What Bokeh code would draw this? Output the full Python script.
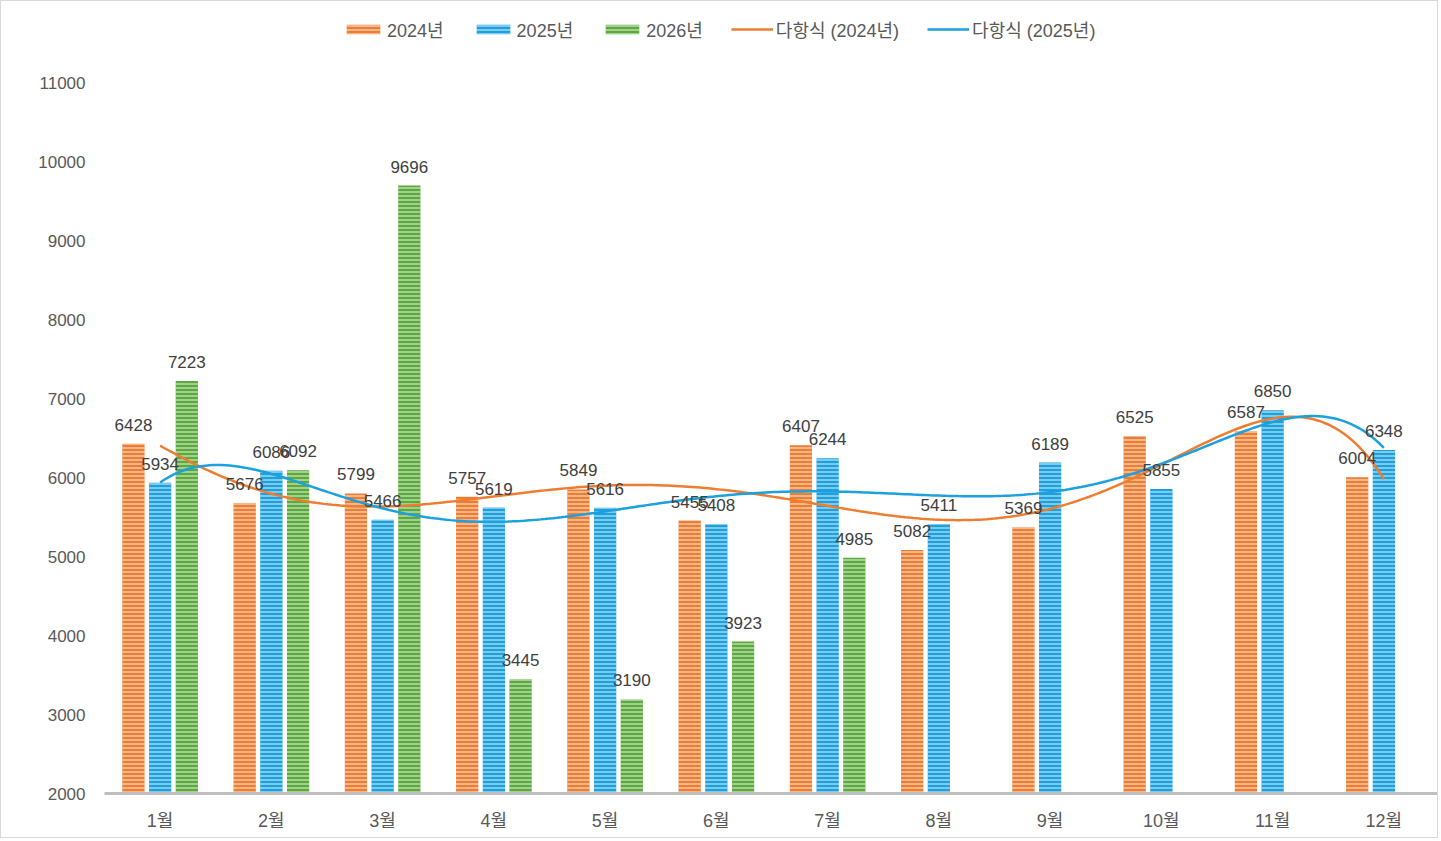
import numpy as np
from bokeh.plotting import figure
from bokeh.models import ColumnDataSource, Legend, LegendItem, FixedTicker, Range1d, LabelSet
from bokeh.core.properties import value
from bokeh.embed import file_html
from bokeh.resources import INLINE

months = ["1월", "2월", "3월", "4월", "5월", "6월", "7월", "8월", "9월", "10월", "11월", "12월"]
v2024 = [6428, 5676, 5799, 5757, 5849, 5455, 6407, 5082, 5369, 6525, 6587, 6004]
v2025 = [5934, 6086, 5466, 5619, 5616, 5408, 6244, 5411, 6189, 5855, 6850, 6348]
v2026 = [7223, 6092, 9696, 3445, 3190, 3923, 4985]
y_ticks = list(range(2000, 11001, 1000))

C24 = "#ED7D31"
C25 = "#1BA1DD"
C26 = "#5DAA3C"
FONT = "Liberation Sans, Noto Sans CJK KR"

W, H = 1438, 838
BL, BR, BT, BB = 103, 0, 10, 46
# frame extends above the 11000 tick so the legend sits inside the frame
y_bottom_px = H - BB          # pixel row of 2000
y_top_tick_px = 81            # pixel row of 11000
y_end = 2000 + 9000 * (y_bottom_px - BT) / (y_bottom_px - y_top_tick_px)

p = figure(width=W, height=H, output_backend="svg", toolbar_location=None,
           x_range=Range1d(0.5, 12.5), y_range=Range1d(2000, y_end),
           min_border_left=BL, min_border_right=BR, min_border_top=BT, min_border_bottom=BB)
p.grid.visible = False
p.outline_line_color = None
p.background_fill_color = "white"
p.border_fill_color = "white"
p.styles = {"border": "1px solid #d9d9d9", "box-sizing": "border-box"}

xs = np.arange(1, 13)
off = 0.24
bw = 0.2

def bars(vals, dx, color):
    n = len(vals)
    src = ColumnDataSource(dict(x=(xs[:n] + dx).tolist(), top=vals, lab=[str(v) for v in vals]))
    r = p.vbar(x="x", top="top", bottom=2000, width=bw, source=src, fill_color=color, line_color=None,
               hatch_pattern="horizontal_line", hatch_color="white", hatch_alpha=0.55,
               hatch_scale=4, hatch_weight=1.6)
    return r, src

r24, s24 = bars(v2024, -off, C24)
r25, s25 = bars(v2025, 0.0, C25)
r26, s26 = bars(v2026, off, C26)

xf = np.linspace(1, 12, 300)
t24 = np.polyval(np.polyfit(xs, v2024, 6), xf)
t25 = np.polyval(np.polyfit(xs, v2025, 6), xf)
l24 = p.line(xf, t24, line_color=C24, line_width=2.5)
l25 = p.line(xf, t25, line_color=C25, line_width=2.5)

for src in (s24, s25, s26):
    p.add_layout(LabelSet(x="x", y="top", text="lab", source=src, text_align="center",
                          text_baseline="bottom", y_offset=13, text_font=value(FONT),
                          text_font_size=value("17px"), text_color=value("#404040")))

p.yaxis.ticker = FixedTicker(ticks=y_ticks)
p.yaxis.axis_line_color = None
p.yaxis.major_tick_line_color = None
p.yaxis.minor_tick_line_color = None
p.yaxis.major_label_text_font = FONT
p.yaxis.major_label_text_font_size = "17px"
p.yaxis.major_label_text_color = "#595959"
p.yaxis.major_label_standoff = 13

p.xaxis.ticker = FixedTicker(ticks=xs.tolist())
p.xaxis.major_label_overrides = {int(i): m for i, m in zip(xs, months)}
p.xaxis.axis_line_color = "#bfbfbf"
p.xaxis.axis_line_width = 3
p.xaxis.major_tick_line_color = None
p.xaxis.minor_tick_line_color = None
p.xaxis.major_tick_out = 0
p.xaxis.major_tick_in = 0
p.xaxis.major_label_text_font = FONT
p.xaxis.major_label_text_font_size = "18px"
p.xaxis.major_label_text_color = "#595959"
p.xaxis.major_label_standoff = 17

legend = Legend(items=[
    LegendItem(label="2024년", renderers=[r24]),
    LegendItem(label="2025년", renderers=[r25]),
    LegendItem(label="2026년", renderers=[r26]),
    LegendItem(label="다항식 (2024년)", renderers=[l24]),
    LegendItem(label="다항식 (2025년)", renderers=[l25]),
], orientation="horizontal", location=(238, y_bottom_px - 41), border_line_color=None,
   background_fill_alpha=0,
   label_text_font=FONT, label_text_font_size="18px", label_text_color="#595959",
   glyph_width=42, glyph_height=12, spacing=28, label_standoff=3, padding=4, margin=0)
p.add_layout(legend, "center")

open("out.html", "w").write(file_html(p, INLINE))
